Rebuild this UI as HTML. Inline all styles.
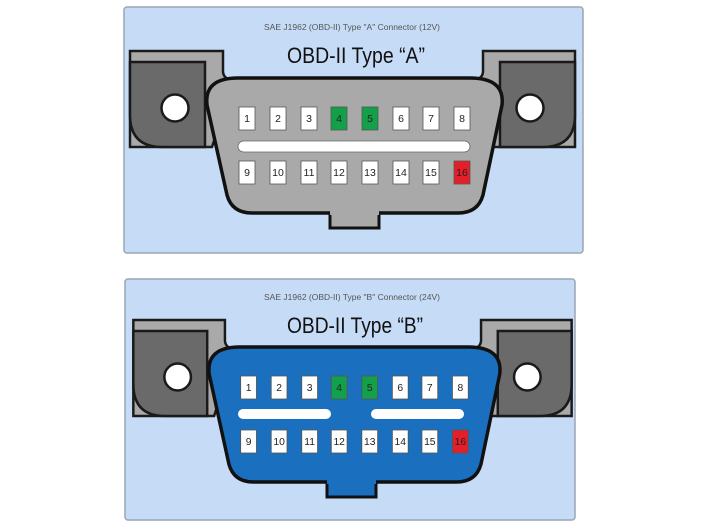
<!DOCTYPE html>
<html><head><meta charset="utf-8"><style>
html,body{margin:0;padding:0;background:#fff;width:708px;height:532px;overflow:hidden}
text{font-family:"Liberation Sans",sans-serif}
</style></head><body>
<svg width="708" height="532" viewBox="0 0 708 532" xmlns="http://www.w3.org/2000/svg">
<defs>
<g id="ears">
  <path d="M130 51 H223 V72 Q224 80 234 80 L212 147 H130 Z" fill="#a9a9a9" stroke="#1a1a1a" stroke-width="2.5"/>
  <path d="M130 62 H205 V147 H162 Q130 147 130 115 Z" fill="#6a6a6a" stroke="#1a1a1a" stroke-width="2.5"/>
  <circle cx="175" cy="108" r="13.5" fill="#fff" stroke="#1a1a1a" stroke-width="2.5"/>
  <path d="M575 51 H483 V72 Q482 80 472 80 L494 147 H575 Z" fill="#a9a9a9" stroke="#1a1a1a" stroke-width="2.5"/>
  <path d="M575 62 H500 V147 H543 Q575 147 575 115 Z" fill="#6a6a6a" stroke="#1a1a1a" stroke-width="2.5"/>
  <circle cx="530" cy="108" r="13.5" fill="#fff" stroke="#1a1a1a" stroke-width="2.5"/>
</g>
<path id="tab" d="M330 208 V228 H379 V208"/>
<path id="body" d="M238 78 H470 Q505 78 502 105 L483 195 Q478 213 458 213 H252 Q232 213 227 195 L207 105 Q204 78 238 78 Z"/>
<g id="pins" font-size="10.5" text-anchor="middle" fill="#222">
  <g stroke="#555" stroke-width="0.8">
  <rect x="239" y="107" width="16" height="23" fill="#fff"/><rect x="270" y="107" width="16" height="23" fill="#fff"/>
  <rect x="301" y="107" width="16" height="23" fill="#fff"/><rect x="331" y="107" width="16" height="23" fill="#13a04a"/>
  <rect x="362" y="107" width="16" height="23" fill="#13a04a"/><rect x="393" y="107" width="16" height="23" fill="#fff"/>
  <rect x="423" y="107" width="16" height="23" fill="#fff"/><rect x="454" y="107" width="16" height="23" fill="#fff"/>
  <rect x="239" y="161" width="16" height="23" fill="#fff"/><rect x="270" y="161" width="16" height="23" fill="#fff"/>
  <rect x="301" y="161" width="16" height="23" fill="#fff"/><rect x="331" y="161" width="16" height="23" fill="#fff"/>
  <rect x="362" y="161" width="16" height="23" fill="#fff"/><rect x="393" y="161" width="16" height="23" fill="#fff"/>
  <rect x="423" y="161" width="16" height="23" fill="#fff"/><rect x="454" y="161" width="16" height="23" fill="#e51f2a"/>
  </g>
  <text x="247" y="122">1</text><text x="278" y="122">2</text><text x="309" y="122">3</text><text x="339" y="122">4</text>
  <text x="370" y="122">5</text><text x="401" y="122">6</text><text x="431" y="122">7</text><text x="462" y="122">8</text>
  <text x="247" y="176">9</text><text x="278" y="176">10</text><text x="309" y="176">11</text><text x="339" y="176">12</text>
  <text x="370" y="176">13</text><text x="401" y="176">14</text><text x="431" y="176">15</text><text x="462" y="176">16</text>
</g>
</defs>

<!-- Panel A -->
<rect x="124" y="7" width="459" height="246" rx="3" fill="#c6dcf6" stroke="#9aa5b3" stroke-width="1.5"/>
<text x="352" y="30" font-size="8.5" fill="#555" text-anchor="middle">SAE J1962 (OBD-II) Type "A" Connector (12V)</text>
<text x="287" y="63" font-size="22" fill="#111" textLength="138" lengthAdjust="spacingAndGlyphs">OBD-II Type “A”</text>
<use href="#ears"/>
<use href="#tab" fill="#a9a9a9" stroke="#111" stroke-width="3"/>
<use href="#body" fill="#a9a9a9" stroke="#111" stroke-width="3.5"/>
<rect x="330" y="205" width="49" height="10" fill="#a9a9a9"/>
<rect x="238" y="141" width="232" height="11" rx="5.5" fill="#fff" stroke="#666" stroke-width="0.8"/>
<use href="#pins"/>

<!-- Panel B -->
<rect x="125" y="279" width="450" height="241" rx="3" fill="#c6dcf6" stroke="#9aa5b3" stroke-width="1.5"/>
<text x="352" y="300" font-size="8.5" fill="#555" text-anchor="middle">SAE J1962 (OBD-II) Type "B" Connector (24V)</text>
<text x="287" y="333" font-size="22" fill="#111" textLength="136" lengthAdjust="spacingAndGlyphs">OBD-II Type “B”</text>
<g transform="translate(0,269)">
<use href="#ears" transform="translate(352,0) scale(0.985,1) translate(-352,0)"/>
<use href="#tab" fill="#1b6fbf" stroke="#111" stroke-width="3" transform="translate(-3,0)"/>
<use href="#body" fill="#1b6fbf" stroke="#111" stroke-width="3.5" transform="translate(352,0) scale(0.985,1) translate(-352,0)"/>
<rect x="327" y="205" width="49" height="10" fill="#1b6fbf"/>
<rect x="238" y="140" width="93" height="10" rx="5" fill="#fff"/>
<rect x="371" y="140" width="93" height="10" rx="5" fill="#fff"/>
<use href="#pins" transform="translate(352,0) scale(0.985,1) translate(-352,0)"/>
</g>
</svg>
</body></html>
